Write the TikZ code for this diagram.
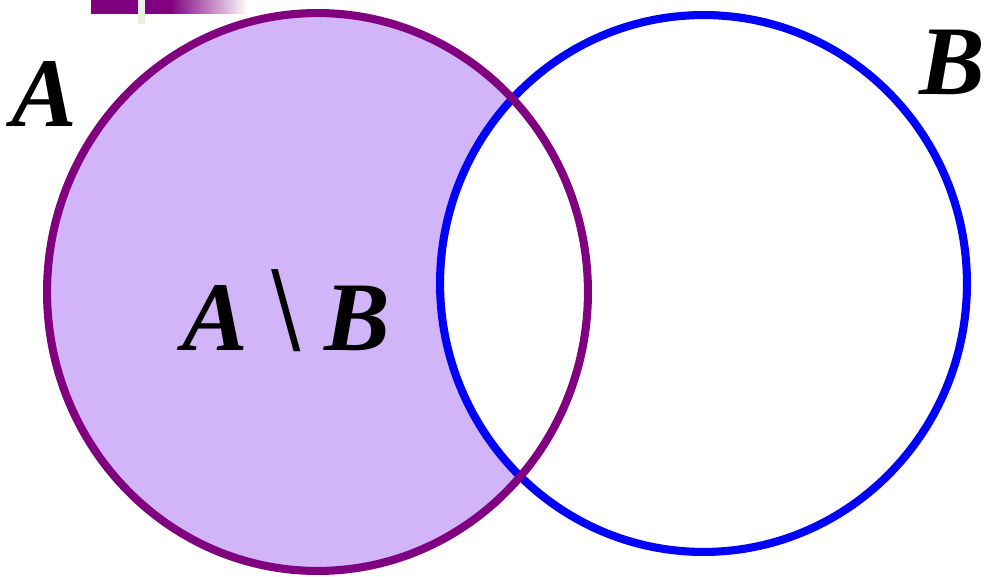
\documentclass[tikz,border=0pt]{standalone}
\usepackage{fontspec}
\setmainfont{Liberation Serif}
\usepackage{xcolor}
\usepackage{tikz}
\usetikzlibrary{positioning}
\definecolor{setpurple}{HTML}{800080}
\definecolor{setblue}{HTML}{0000FF}
\definecolor{setfill}{HTML}{D2B4F8}
\definecolor{bargray}{HTML}{EDEDE3}

\begin{document}
\begin{tikzpicture}[
  x=0.02cm, y=-0.02cm,
  setA/.style={draw=setpurple, line width=4.6pt},
  setB/.style={draw=setblue, line width=4.6pt},
  setlabel/.style={font=\fontsize{56}{60}\selectfont\bfseries\itshape, inner sep=0pt, anchor=base},
]
  \useasboundingbox (0,0) rectangle (986,577);

  % title bar at the top
  \fill[setpurple] (91,0) rectangle (170,14);
  \shade[left color=setpurple, right color=white] (170,0) rectangle (248,14);
  \fill[bargray] (138,0) rectangle (145,24);

  \coordinate (cA) at (317.5,292);
  \coordinate (cB) at (703.5,283.5);

  % A minus B
  \fill[setfill] (cA) ellipse [x radius=5.41cm, y radius=5.58cm];
  \fill[white] (cB) ellipse [x radius=5.27cm, y radius=5.37cm];

  \path[setB] (cB) ellipse [x radius=5.27cm, y radius=5.37cm];
  \path[setA] (cA) ellipse [x radius=5.41cm, y radius=5.58cm];

  \node[setlabel] (labA) at (44,127) {A};
  \node[setlabel] (labB) at (952,95) {B};
  \node[setlabel] (labdiff) at (286,350) {A \scalebox{1}[1.25]{\upshape\textbackslash} B};
\end{tikzpicture}
\end{document}
